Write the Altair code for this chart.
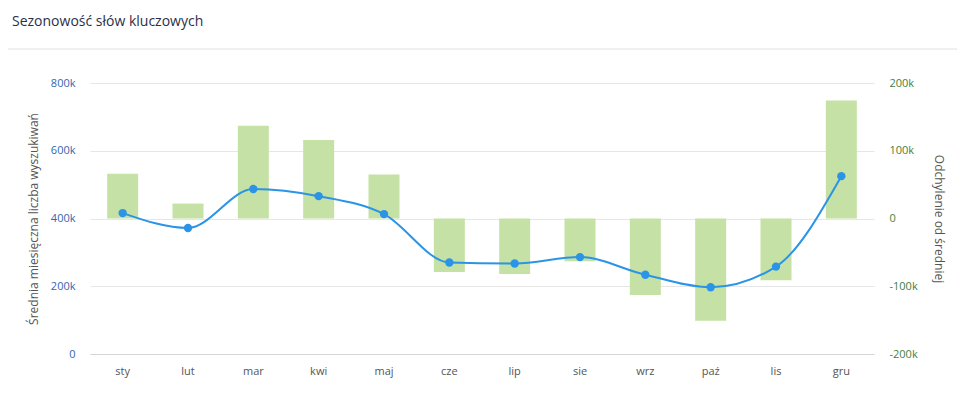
import altair as alt
import pandas as pd

months = ["sty", "lut", "mar", "kwi", "maj", "cze", "lip", "sie", "wrz", "paź", "lis", "gru"]
avg_searches = [416000, 372000, 487000, 466000, 413000, 270000, 267000, 286000, 234000, 197000, 258000, 525000]
deviation = [66000, 22000, 137000, 116000, 65000, -79000, -82000, -63000, -113000, -151000, -91000, 174000]

title_text = "Sezonowość słów kluczowych"
left_title = "Średnia miesięczna liczba wyszukiwań"
right_title = "Odchylenie od średniej"

df = pd.DataFrame({"month": months, "avg": avg_searches, "dev": deviation})

FONT = "Open Sans"
x_enc = alt.X(
    "month:N", sort=months, title=None,
    scale=alt.Scale(paddingInner=0.1, paddingOuter=0.05),
    axis=alt.Axis(labelAngle=0, ticks=False, domain=True, domainColor="#d6d6d6",
                  labelColor="#555555", labelFontSize=11, labelPadding=11, labelFont=FONT, grid=False),
)

kfmt = "datum.value == 0 ? '0' : (datum.value / 1000) + 'k'"

bars = alt.Chart(df).mark_bar(size=31, color="#c5e1a5").encode(
    x=x_enc,
    y=alt.Y("dev:Q", scale=alt.Scale(domain=[-200000, 200000], nice=False),
            axis=alt.Axis(orient="right", title=right_title, values=[-200000, -100000, 0, 100000, 200000],
                          labelExpr=kfmt, labelColor="#3f7f3f", labelFontSize=11, labelFont=FONT,
                          labelPadding=15, ticks=False, domain=False, grid=False,
                          titleColor="#555555", titleFontSize=12, titleFont=FONT, titleFontWeight="normal",
                          titlePadding=14)),
)

line = alt.Chart(df).mark_line(
    interpolate="monotone", color="#2b94e6", strokeWidth=2,
    point=alt.OverlayMarkDef(filled=True, size=70, color="#2b94e6", opacity=1),
).encode(
    x=x_enc,
    y=alt.Y("avg:Q", scale=alt.Scale(domain=[0, 800000], nice=False),
            axis=alt.Axis(orient="left", title=left_title, values=[0, 200000, 400000, 600000, 800000],
                          labelExpr=kfmt, labelColor="#3366b0", labelFontSize=11, labelFont=FONT,
                          labelPadding=15, ticks=False, domain=False, grid=True, gridColor="#e6e6e6",
                          titleColor="#555555", titleFontSize=12, titleFont=FONT, titleFontWeight="normal",
                          titlePadding=10)),
)

title_mark = alt.Chart(pd.DataFrame({"t": [title_text]})).mark_text(
    align="left", baseline="middle", font=FONT, fontSize=14, color="#2a2f4a"
).encode(x=alt.value(-78), y=alt.value(-61), text="t:N")

sep = alt.Chart(pd.DataFrame({"a": [0]})).mark_rule(color="#e0e0e0", strokeWidth=1).encode(
    x=alt.value(-82), x2=alt.value(867), y=alt.value(-34)
)

chart = alt.layer(bars, line, title_mark, sep).resolve_scale(y="independent").properties(
    width=784, height=271,
    autosize=alt.AutoSizeParams(type="none"),
    padding={"left": 82, "top": 75, "right": 83, "bottom": 31},
).configure_view(stroke=None)

chart.save("out.html", embed_options={"renderer": "svg", "actions": False})
